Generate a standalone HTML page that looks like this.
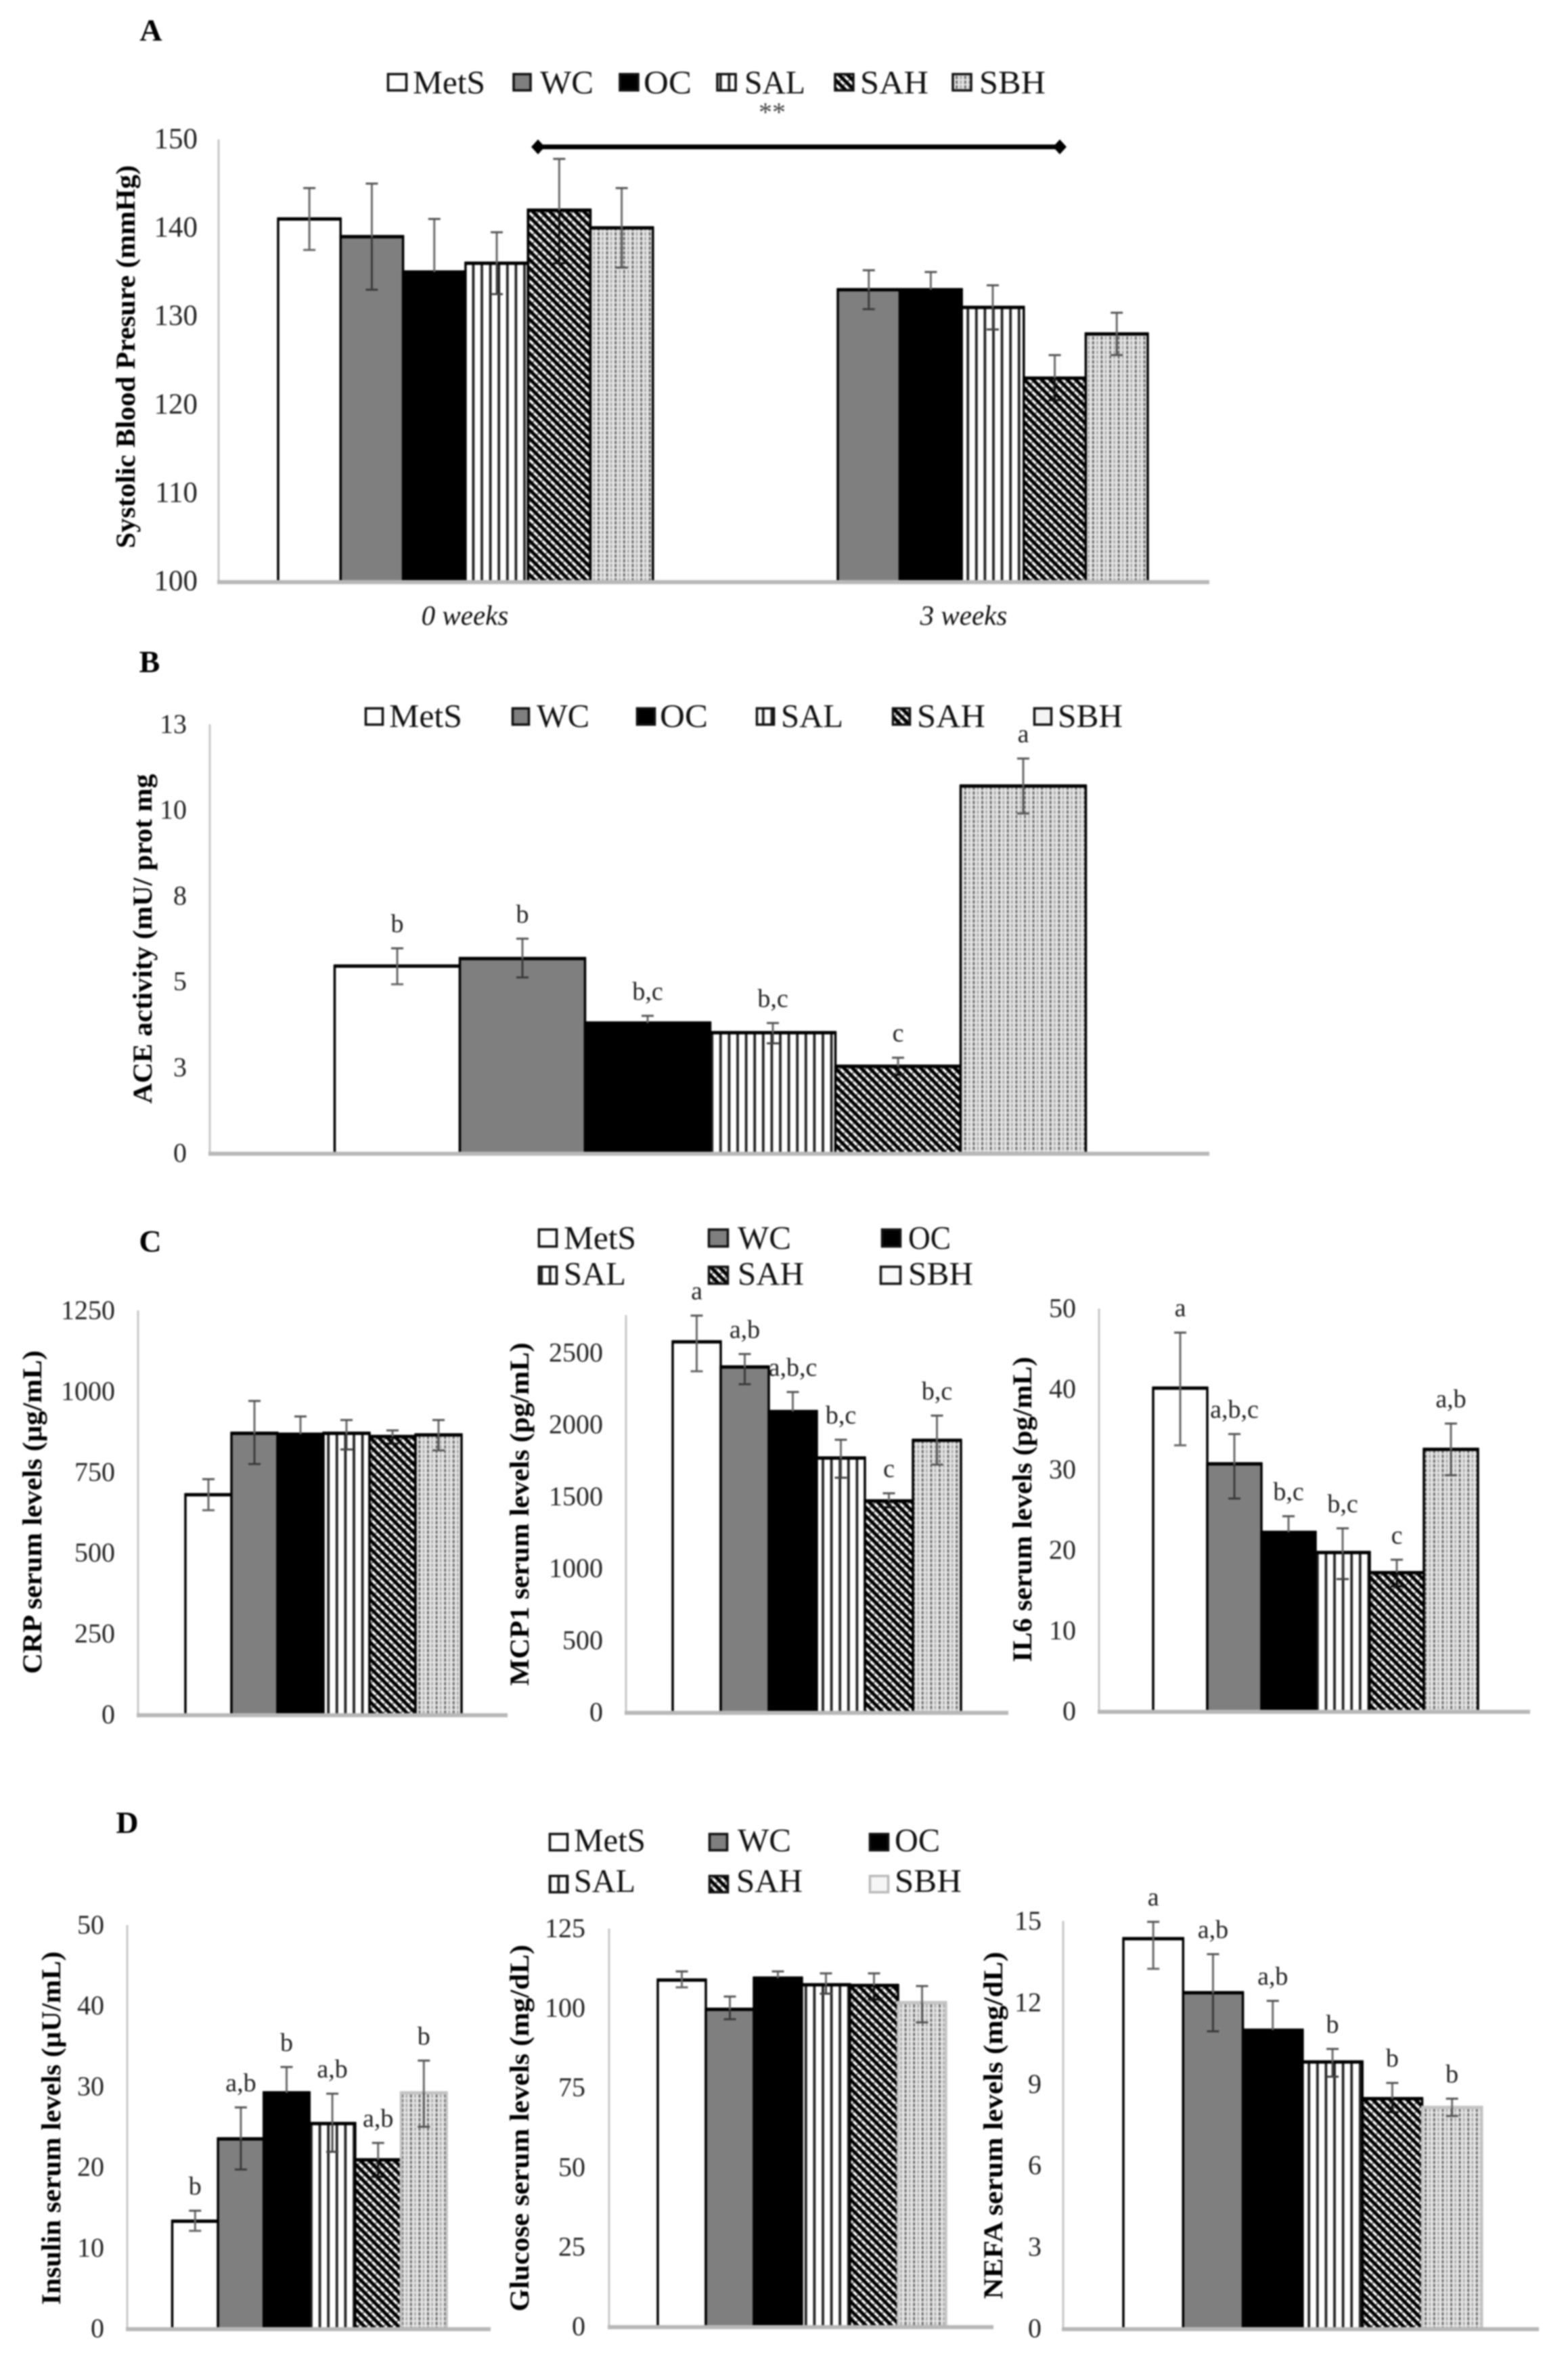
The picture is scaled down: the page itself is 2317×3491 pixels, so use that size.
<!DOCTYPE html>
<html lang="en">
<head>
<meta charset="utf-8">
<title>Blood pressure, ACE activity and serum markers by group</title>
<style>
  html, body { margin: 0; padding: 0; background: #fff; }
  #figure { display: block; width: 2317px; height: 3491px; filter: blur(1px); }
  text { font-family: "Liberation Serif", "Times New Roman", serif; fill: #111; }
  .panel-letter { font-size: 46px; font-weight: bold; text-anchor: middle; fill: #000; }
  .legend-label { font-size: 49px; fill: #111; }
  .axis-title { font-size: 40px; font-weight: bold; text-anchor: middle; fill: #000; }
  .cat-label { font-size: 41px; font-style: italic; text-anchor: middle; fill: #111; }
  .sw { stroke: #111; stroke-width: 3.5; }
</style>
</head>
<body>
<svg id="figure" xmlns="http://www.w3.org/2000/svg" width="2317" height="3491" viewBox="0 0 2317 3491">
  <defs>
    <pattern id="hatch-sal" patternUnits="userSpaceOnUse" width="12.6" height="10">
      <rect width="12.6" height="10" fill="#fff"/>
      <rect x="4.5" width="3.8" height="10" fill="#222"/>
    </pattern>
    <pattern id="hatch-sah" patternUnits="userSpaceOnUse" width="8.9" height="8.9" patternTransform="rotate(-45)">
      <rect width="8.9" height="8.9" fill="#000"/>
      <rect width="3.7" height="8.9" fill="#fff"/>
      <rect width="3.7" height="1.6" fill="#444"/>
    </pattern>
    <pattern id="hatch-sbh" patternUnits="userSpaceOnUse" width="12.6" height="7">
      <rect width="12.6" height="7" fill="#e6e6e6"/>
      <rect x="1" width="3" height="5" fill="#6f6f6f"/>
      <rect x="7.3" width="2.6" height="5" fill="#a6a6a6"/>
    </pattern>
  </defs>

  <!-- Panel letters -->
  <text class="panel-letter" x="223" y="60">A</text>
  <text class="panel-letter" x="221" y="993">B</text>
  <text class="panel-letter" x="222" y="1849">C</text>
  <text class="panel-letter" x="188" y="2708">D</text>

  <!-- Legend A -->
  <g>
    <rect class="sw" x="573.5" y="109.5" width="27" height="24" fill="#fff"/>
    <text class="legend-label" x="610" y="138" textLength="107" lengthAdjust="spacingAndGlyphs">MetS</text>
    <rect class="sw" x="759" y="109.5" width="25" height="24" fill="#7f7f7f"/>
    <text class="legend-label" x="798" y="138" textLength="79" lengthAdjust="spacingAndGlyphs">WC</text>
    <rect class="sw" x="916" y="109.5" width="27" height="24" fill="#000"/>
    <text class="legend-label" x="951" y="138" textLength="71" lengthAdjust="spacingAndGlyphs">OC</text>
    <rect class="sw" x="1060" y="109.5" width="27" height="24" fill="url(#hatch-sal)"/>
    <text class="legend-label" x="1100" y="138" textLength="90" lengthAdjust="spacingAndGlyphs">SAL</text>
    <rect class="sw" x="1234" y="109.5" width="27" height="24" fill="url(#hatch-sah)"/>
    <text class="legend-label" x="1271" y="138" textLength="101" lengthAdjust="spacingAndGlyphs">SAH</text>
    <rect class="sw" x="1408" y="109.5" width="27" height="24" fill="url(#hatch-sbh)"/>
    <text class="legend-label" x="1447" y="138" textLength="98" lengthAdjust="spacingAndGlyphs">SBH</text>
  </g>

  <!-- Significance bracket panel A -->
  <g>
    <line x1="795" y1="217" x2="1566" y2="217" stroke="#000" stroke-width="7"/>
    <polygon points="785,217 795,206 805,217 795,228" fill="#000"/>
    <polygon points="1556,217 1566,206 1576,217 1566,228" fill="#000"/>
    <text x="1141" y="179" font-size="40" text-anchor="middle" style="fill:#444">**</text>
  </g>

  <text class="axis-title" transform="translate(199,527) rotate(-90)" textLength="566" lengthAdjust="spacingAndGlyphs">Systolic Blood Presure (mmHg)</text>
  <text class="cat-label" x="687" y="923">0 weeks</text>
  <text class="cat-label" x="1424" y="923">3 weeks</text>

  <!-- Legend B -->
  <g>
    <rect class="sw" x="540.5" y="1046.5" width="25" height="24" fill="#fff"/>
    <text class="legend-label" x="575" y="1074" textLength="108" lengthAdjust="spacingAndGlyphs">MetS</text>
    <rect class="sw" x="757.5" y="1046.5" width="24" height="24" fill="#7f7f7f"/>
    <text class="legend-label" x="793" y="1074" textLength="78" lengthAdjust="spacingAndGlyphs">WC</text>
    <rect class="sw" x="941.5" y="1046.5" width="26" height="24" fill="#000"/>
    <text class="legend-label" x="975" y="1074" textLength="71" lengthAdjust="spacingAndGlyphs">OC</text>
    <rect class="sw" x="1118.5" y="1046.5" width="25" height="24" fill="url(#hatch-sal)"/>
    <text class="legend-label" x="1154" y="1074" textLength="92" lengthAdjust="spacingAndGlyphs">SAL</text>
    <rect class="sw" x="1319.5" y="1046.5" width="25" height="24" fill="url(#hatch-sah)"/>
    <text class="legend-label" x="1355" y="1074" textLength="101" lengthAdjust="spacingAndGlyphs">SAH</text>
    <rect class="sw" x="1528.5" y="1046.5" width="25" height="24" fill="#f4f4f4"/>
    <text class="legend-label" x="1563" y="1074" textLength="96" lengthAdjust="spacingAndGlyphs">SBH</text>
  </g>
  <text class="axis-title" transform="translate(224,1387) rotate(-90)" textLength="487" lengthAdjust="spacingAndGlyphs">ACE activity (mU/ prot mg</text>

  <!-- Legend C -->
  <g>
    <rect class="sw" x="796.5" y="1816.5" width="26" height="25" fill="#fff"/>
    <text class="legend-label" x="833" y="1845" textLength="107" lengthAdjust="spacingAndGlyphs">MetS</text>
    <rect class="sw" x="1047.5" y="1816.5" width="28" height="25" fill="#7f7f7f"/>
    <text class="legend-label" x="1090" y="1845" textLength="79" lengthAdjust="spacingAndGlyphs">WC</text>
    <rect class="sw" x="1303.5" y="1816.5" width="27" height="25" fill="#000"/>
    <text class="legend-label" x="1342" y="1845" textLength="63" lengthAdjust="spacingAndGlyphs">OC</text>
    <rect class="sw" x="796.5" y="1871.5" width="26" height="25" fill="url(#hatch-sal)"/>
    <text class="legend-label" x="833" y="1898" textLength="92" lengthAdjust="spacingAndGlyphs">SAL</text>
    <rect class="sw" x="1047.5" y="1871.5" width="28" height="25" fill="url(#hatch-sah)"/>
    <text class="legend-label" x="1090" y="1898" textLength="98" lengthAdjust="spacingAndGlyphs">SAH</text>
    <rect class="sw" x="1301.5" y="1871.5" width="29" height="25" fill="#fafafa"/>
    <text class="legend-label" x="1342" y="1898" textLength="96" lengthAdjust="spacingAndGlyphs">SBH</text>
  </g>
  <text class="axis-title" transform="translate(61,2234) rotate(-90)" textLength="478" lengthAdjust="spacingAndGlyphs">CRP serum levels (µg/mL)</text>
  <text class="axis-title" transform="translate(781,2237) rotate(-90)" textLength="507" lengthAdjust="spacingAndGlyphs">MCP1 serum levels (pg/mL)</text>
  <text class="axis-title" transform="translate(1524,2230) rotate(-90)" textLength="451" lengthAdjust="spacingAndGlyphs">IL6 serum levels (pg/mL)</text>

  <!-- Legend D -->
  <g>
    <rect class="sw" x="812.5" y="2709.5" width="26" height="24" fill="#fff"/>
    <text class="legend-label" x="848" y="2735" textLength="106" lengthAdjust="spacingAndGlyphs">MetS</text>
    <rect class="sw" x="1048.5" y="2709.5" width="26" height="24" fill="#7f7f7f"/>
    <text class="legend-label" x="1090" y="2735" textLength="79" lengthAdjust="spacingAndGlyphs">WC</text>
    <rect class="sw" x="1285.5" y="2709.5" width="27" height="24" fill="#000"/>
    <text class="legend-label" x="1322" y="2735" textLength="67" lengthAdjust="spacingAndGlyphs">OC</text>
    <rect class="sw" x="812.5" y="2771.5" width="26" height="24" fill="url(#hatch-sal)"/>
    <text class="legend-label" x="848" y="2795" textLength="91" lengthAdjust="spacingAndGlyphs">SAL</text>
    <rect class="sw" x="1048.5" y="2771.5" width="27" height="24" fill="url(#hatch-sah)"/>
    <text class="legend-label" x="1088" y="2795" textLength="98" lengthAdjust="spacingAndGlyphs">SAH</text>
    <rect x="1285.5" y="2771.5" width="27" height="24" fill="#f6f6f6" stroke="#bbb" stroke-width="3.5"/>
    <text class="legend-label" x="1322" y="2795" textLength="99" lengthAdjust="spacingAndGlyphs">SBH</text>
  </g>
  <text class="axis-title" transform="translate(89,3144) rotate(-90)" textLength="522" lengthAdjust="spacingAndGlyphs">Insulin  serum levels (µU/mL)</text>
  <text class="axis-title" transform="translate(781,3144) rotate(-90)" textLength="542" lengthAdjust="spacingAndGlyphs">Glucose serum levels  (mg/dL)</text>
  <text class="axis-title" transform="translate(1481,3140) rotate(-90)" textLength="513" lengthAdjust="spacingAndGlyphs">NEFA serum levels (mg/dL)</text>

  <g id="plots"></g>
</svg>

<script>
// Series
const groupNames = ['MetS', 'WC', 'OC', 'SAL', 'SAH', 'SBH'];

// Panel A - systolic blood pressure
const sbpTickValues = [100, 110, 120, 130, 140, 150];
const sbpTickLabels = ['100', '110', '120', '130', '140', '150'];
const sbpMeansWeek0 = [141, 139, 135, 136, 142, 140];
const sbpUpperWeek0 = [144.5, 145, 141, 139.5, 147.8, 144.5];
const sbpLowerWeek0 = [137.5, 133, 129, 132.5, 136, 135.5];
const sbpMeansWeek3 = [133, 133, 131, 123, 128];
const sbpUpperWeek3 = [135.2, 135, 133.5, 125.6, 130.4];
const sbpLowerWeek3 = [130.8, 131, 128.5, 120.5, 125.6];

// Panel B - ACE activity
const aceTickValues = [0, 2.5, 5, 7.5, 10, 12.5];
const aceTickLabels = ['0', '3', '5', '8', '10', '13'];
const aceMeans = [5.45, 5.67, 3.79, 3.51, 2.53, 10.7];
const aceUpper = [5.97, 6.25, 4.0, 3.79, 2.78, 11.5];
const aceLower = [4.92, 5.12, 3.5, 3.2, 2.28, 9.9];
const aceLetters = ['b', 'b', 'b,c', 'b,c', 'c', 'a'];

// Panel C - CRP
const crpTickValues = [0, 250, 500, 750, 1000, 1250];
const crpTickLabels = ['0', '250', '500', '750', '1000', '1250'];
const crpMeans = [680, 870, 867, 870, 860, 865];
const crpUpper = [728, 970, 922, 911, 879, 911];
const crpLower = [632, 775, 809, 820, 838, 817];

// Panel C - MCP1
const mcpTickValues = [0, 500, 1000, 1500, 2000, 2500];
const mcpTickLabels = ['0', '500', '1000', '1500', '2000', '2500'];
const mcpMeans = [2575, 2400, 2090, 1767, 1469, 1890];
const mcpUpper = [2757, 2490, 2226, 1894, 1522, 2062];
const mcpLower = [2370, 2280, 1947, 1630, 1425, 1721];
const mcpLetters = ['a', 'a,b', 'a,b,c', 'b,c', 'c', 'b,c'];

// Panel C - IL6
const il6TickValues = [0, 10, 20, 30, 40, 50];
const il6TickLabels = ['0', '10', '20', '30', '40', '50'];
const il6Means = [40.1, 30.7, 22.2, 19.7, 17.2, 32.5];
const il6Upper = [47, 34.4, 24.2, 22.7, 18.8, 35.7];
const il6Lower = [33, 26.4, 20, 16.4, 15.5, 29.3];
const il6Letters = ['a', 'a,b,c', 'b,c', 'b,c', 'c', 'a,b'];

// Panel D - insulin
const insTickValues = [0, 10, 20, 30, 40, 50];
const insTickLabels = ['0', '10', '20', '30', '40', '50'];
const insMeans = [13.3, 23.5, 29.2, 25.4, 20.9, 29.2];
const insUpper = [14.6, 27.4, 32.4, 29.1, 23, 33.2];
const insLower = [12.1, 19.7, 26, 21.9, 18.8, 25];
const insLetters = ['b', 'a,b', 'b', 'a,b', 'a,b', 'b'];

// Panel D - glucose
const gluTickValues = [0, 25, 50, 75, 100, 125];
const gluTickLabels = ['0', '25', '50', '75', '100', '125'];
const gluMeans = [108.8, 99.6, 109.4, 107.3, 107.1, 101.7];
const gluUpper = [111.5, 103.6, 111.5, 110.9, 110.9, 106.9];
const gluLower = [106.5, 96.5, 108, 104.5, 102.7, 95.5];

// Panel D - NEFA
const nefaTickValues = [0, 3, 6, 9, 12, 15];
const nefaTickLabels = ['0', '3', '6', '9', '12', '15'];
const nefaMeans = [14.35, 12.36, 10.98, 9.81, 8.46, 8.14];
const nefaUpper = [14.97, 13.78, 12.06, 10.29, 9.04, 8.46];
const nefaLower = [13.24, 10.94, 9.8, 9.27, 7.96, 7.82];
const nefaLetters = ['a', 'a,b', 'a,b', 'b', 'b', 'b'];

const SVG_NS = 'http://www.w3.org/2000/svg';
const plots = document.getElementById('plots');

function shape(parent, tag, attrs) {
  const node = document.createElementNS(SVG_NS, tag);
  for (const key in attrs) node.setAttribute(key, attrs[key]);
  parent.appendChild(node);
  return node;
}

function seriesFill(seriesIndex) {
  return ['#fff', '#7f7f7f', '#000', 'url(#hatch-sal)', 'url(#hatch-sah)', 'url(#hatch-sbh)'][seriesIndex];
}

function lowerWhiskerColor(seriesIndex) {
  return ['#666', '#3a3a3a', '#000', '#444', '#111', '#555'][seriesIndex];
}

function makeScale(frame) {
  return function (value) {
    return frame.base - (value - frame.min) / (frame.max - frame.min) * (frame.base - frame.top);
  };
}

function drawAxes(name, frame, tickValues, tickLabels) {
  const y = makeScale(frame);
  const axisGroup = shape(plots, 'g', {});
  
  

  const yLine = shape(axisGroup, 'line', { x1: frame.left, x2: frame.left, y1: frame.top, y2: frame.base, stroke: '#c8c8c8', 'stroke-width': 3 });
  
  

  tickValues.forEach(function (value, i) {
    const label = shape(axisGroup, 'text', { x: frame.tickRight, y: y(value) + 13, 'text-anchor': 'end', 'font-size': frame.tickSize, style: 'fill:#222' });
    label.textContent = tickLabels[i];
    
    
  });
}

function drawBaseline(name, frame) {
  const xLine = shape(plots, 'line', { x1: frame.left - 2, x2: frame.right, y1: frame.base + 1, y2: frame.base + 1, stroke: '#b8b8b8', 'stroke-width': 6 });
  
  
}

function drawBars(name, frame, start, barWidth, firstSeries, means, upper, lower, letters, lightLast) {
  const y = makeScale(frame);
  const barGroup = shape(plots, 'g', {});
  
  

  means.forEach(function (mean, i) {
    const seriesIndex = firstSeries + i;
    const series = groupNames[seriesIndex].toLowerCase();
    const left = start + i * barWidth;
    const isLight = lightLast && seriesIndex === 5;
    const bar = shape(barGroup, 'rect', {
      x: left, y: y(mean), width: barWidth, height: frame.base - y(mean),
      fill: seriesFill(seriesIndex), stroke: isLight ? '#c4c4c4' : '#000', 'stroke-width': 3.5
    });
    
    

    const topEdge = shape(barGroup, 'line', { x1: left - 1.5, x2: left + barWidth + 1.5, y1: y(mean), y2: y(mean), stroke: isLight ? '#c4c4c4' : '#000', 'stroke-width': 5 });
    
    
  });

  means.forEach(function (mean, i) {
    const seriesIndex = firstSeries + i;
    const series = groupNames[seriesIndex].toLowerCase();
    const cx = start + (i + 0.5) * barWidth;
    const yMean = y(mean);
    const yUp = y(upper[i]);
    const yLow = y(lower[i]);
    const lowColor = lowerWhiskerColor(seriesIndex);

    const stem = shape(barGroup, 'line', { x1: cx, x2: cx, y1: yUp, y2: yMean, stroke: '#6a6a6a', 'stroke-width': 3 });
    
    

    const stemLow = shape(barGroup, 'line', { x1: cx, x2: cx, y1: yMean, y2: yLow, stroke: lowColor, 'stroke-width': 3 });
    
    

    const capUp = shape(barGroup, 'line', { x1: cx - 9, x2: cx + 9, y1: yUp, y2: yUp, stroke: '#555', 'stroke-width': 3 });
    
    

    const capLow = shape(barGroup, 'line', { x1: cx - 9, x2: cx + 9, y1: yLow, y2: yLow, stroke: lowColor, 'stroke-width': 3 });
    
    

    if (letters) {
      const mark = shape(barGroup, 'text', { x: cx, y: yUp - 24, 'text-anchor': 'middle', 'font-size': 38, style: 'fill:#222' });
      mark.textContent = letters[i];
      
      
    }
  });
}

const frameSbp = { left: 323, top: 206, base: 859, right: 1787, min: 100, max: 150, tickRight: 292, tickSize: 43 };
drawAxes('sbp', frameSbp, sbpTickValues, sbpTickLabels);
drawBars('sbp-week0', frameSbp, 411, 92.3, 0, sbpMeansWeek0, sbpUpperWeek0, sbpLowerWeek0, null, false);
drawBars('sbp-week3', frameSbp, 1238, 91.6, 1, sbpMeansWeek3, sbpUpperWeek3, sbpLowerWeek3, null, false);
drawBaseline('sbp', frameSbp);

const frameAce = { left: 310, top: 1070, base: 1703.5, right: 1787, min: 0, max: 12.5, tickRight: 276, tickSize: 40 };
drawAxes('ace', frameAce, aceTickValues, aceTickLabels);
drawBars('ace', frameAce, 494.5, 185, 0, aceMeans, aceUpper, aceLower, aceLetters, false);
drawBaseline('ace', frameAce);

const frameCrp = { left: 204, top: 1936, base: 2533, right: 750, min: 0, max: 1250, tickRight: 170, tickSize: 40 };
drawAxes('crp', frameCrp, crpTickValues, crpTickLabels);
drawBars('crp', frameCrp, 274, 68, 0, crpMeans, crpUpper, crpLower, null, false);
drawBaseline('crp', frameCrp);

const frameMcp = { left: 925, top: 1943, base: 2529.5, right: 1490, min: 0, max: 2760, tickRight: 891, tickSize: 40 };
drawAxes('mcp1', frameMcp, mcpTickValues, mcpTickLabels);
drawBars('mcp1', frameMcp, 994, 71, 0, mcpMeans, mcpUpper, mcpLower, mcpLetters, false);
drawBaseline('mcp1', frameMcp);

const frameIl6 = { left: 1624, top: 1933, base: 2528, right: 2261, min: 0, max: 50, tickRight: 1590, tickSize: 40 };
drawAxes('il6', frameIl6, il6TickValues, il6TickLabels);
drawBars('il6', frameIl6, 1704, 80, 0, il6Means, il6Upper, il6Lower, il6Letters, false);
drawBaseline('il6', frameIl6);

const frameIns = { left: 188, top: 2844, base: 3440, right: 725, min: 0, max: 50, tickRight: 154, tickSize: 40 };
drawAxes('insulin', frameIns, insTickValues, insTickLabels);
drawBars('insulin', frameIns, 254.5, 67.6, 0, insMeans, insUpper, insLower, insLetters, true);
drawBaseline('insulin', frameIns);

const frameGlu = { left: 900, top: 2849, base: 3437, right: 1468, min: 0, max: 125, tickRight: 865, tickSize: 40 };
drawAxes('glucose', frameGlu, gluTickValues, gluTickLabels);
drawBars('glucose', frameGlu, 972, 71, 0, gluMeans, gluUpper, gluLower, null, true);
drawBaseline('glucose', frameGlu);

const frameNefa = { left: 1571, top: 2838, base: 3440, right: 2274, min: 0, max: 15, tickRight: 1539, tickSize: 40 };
drawAxes('nefa', frameNefa, nefaTickValues, nefaTickLabels);
drawBars('nefa', frameNefa, 1660, 88.3, 0, nefaMeans, nefaUpper, nefaLower, nefaLetters, true);
drawBaseline('nefa', frameNefa);
</script>
</body>
</html>
